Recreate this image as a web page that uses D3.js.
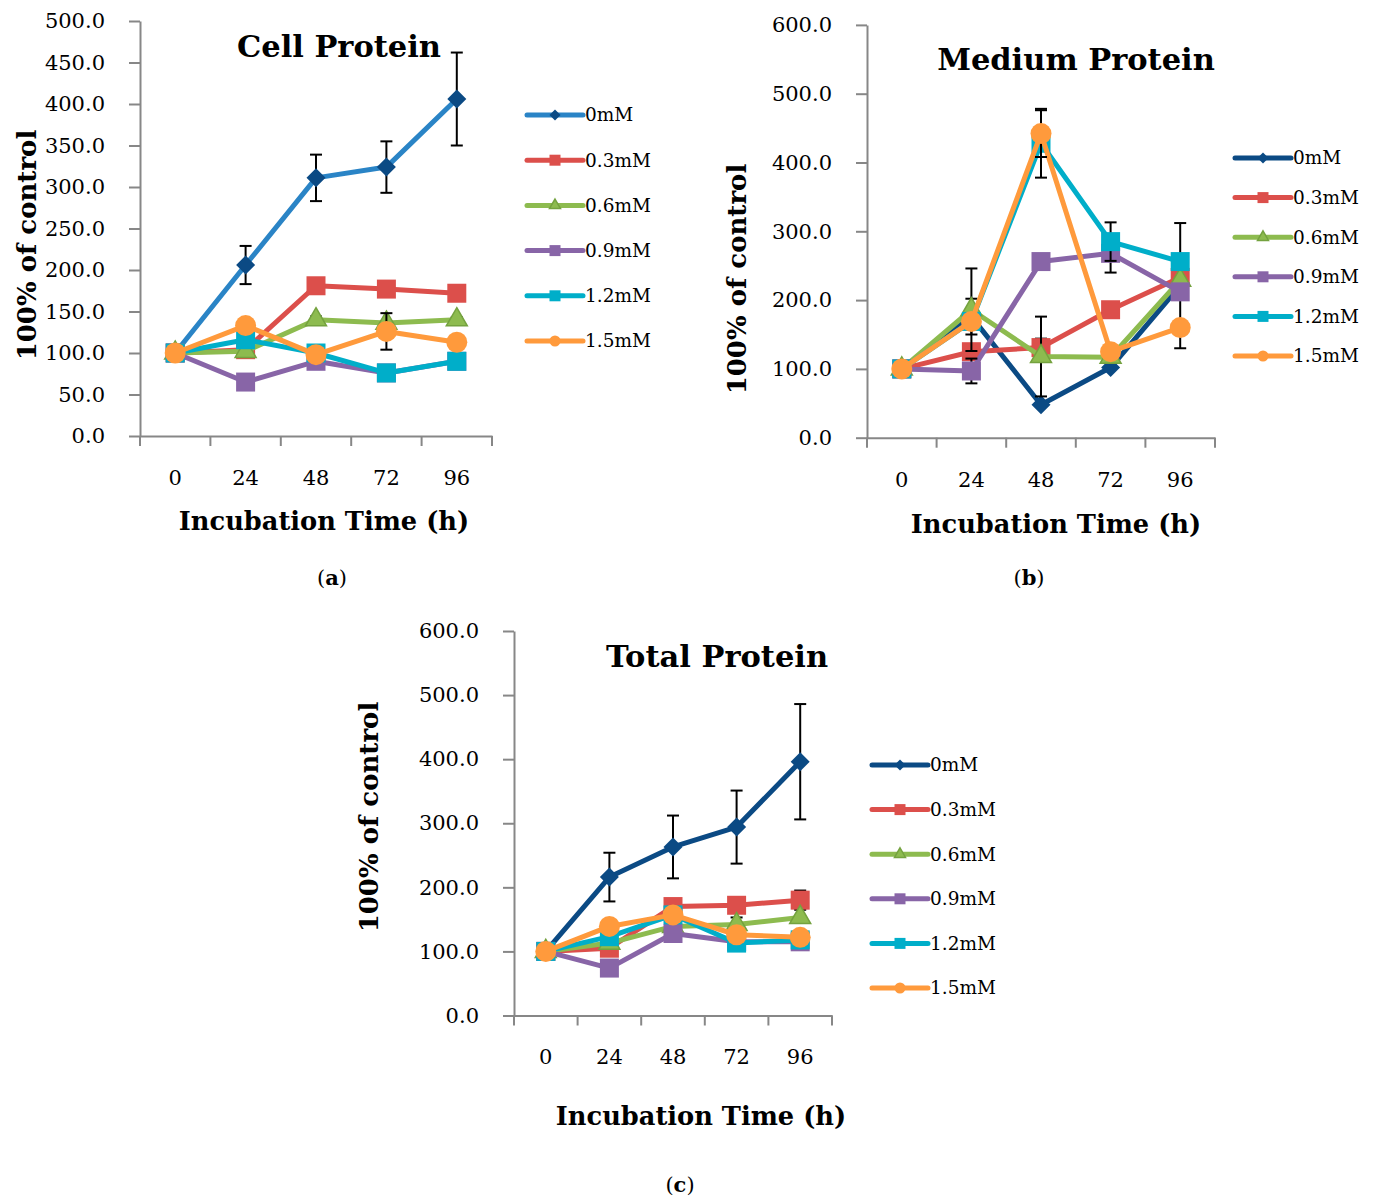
<!DOCTYPE html>
<html>
<head>
<meta charset="utf-8">
<script src="https://cdn.jsdelivr.net/npm/d3@7"></script>
<style>
body { margin: 0; background: #fff; }
text { font-family: "DejaVu Serif", serif; fill: #000; }
</style>
</head>
<body>
<script>
var g_width = 1376
var g_height = 1199

var hours = ["0", "24", "48", "72", "96"]
var doses = ["0mM", "0.3mM", "0.6mM", "0.9mM", "1.2mM", "1.5mM"]

// one row per dose, one value per hour (% of control)
var cellMean = [
    [100, 206, 311, 324, 406],
    [100, 104, 181, 177, 172],
    [100, 102, 140, 136, 140],
    [100, 65, 90, 76, 90],
    [100, 116, 100, 76, 90],
    [100, 133, 98, 126, 113]
]
var cellErr = [
    [0, 23, 28, 31, 56],
    [0, 0, 0, 0, 0],
    [0, 0, 4, 0, 3],
    [0, 0, 0, 0, 0],
    [0, 0, 0, 0, 0],
    [0, 0, 0, 22, 0]
]

var mediumMean = [
    [100, 176, 48, 102, 221],
    [100, 125, 131, 186, 233],
    [100, 186, 118, 117, 229],
    [100, 97, 256, 268, 212],
    [100, 169, 428, 285, 256],
    [100, 169, 442, 125, 160]
]
var mediumErr = [
    [0, 26, 0, 0, 91],
    [0, 0, 13, 0, 0],
    [0, 60, 58, 0, 0],
    [0, 18, 0, 28, 0],
    [0, 0, 50, 28, 0],
    [0, 0, 34, 0, 0]
]

var totalMean = [
    [100, 216, 263, 294, 396],
    [100, 105, 170, 172, 180],
    [100, 113, 139, 142, 153],
    [100, 74, 128, 115, 115],
    [100, 123, 157, 113, 118],
    [100, 139, 157, 126, 122]
]
var totalErr = [
    [0, 38, 49, 57, 90],
    [0, 0, 0, 0, 15],
    [0, 0, 0, 11, 0],
    [0, 0, 0, 0, 0],
    [0, 0, 0, 0, 0],
    [0, 0, 0, 0, 0]
]

var shapes = ["diamond", "square", "triangle", "square", "square", "circle"]
var lineColors = ["#0b4a84", "#dc4f4b", "#8dbb4f", "#8865a7", "#00aec9", "#ff9a3c"]
var markColors = ["#0b4a84", "#dc4f4b", "#8dbb4f", "#8865a7", "#00aec9", "#ff9a3c"]
var axisColor = "#878787"

var svgContainer = d3.select("body")
    .append("svg")
    .attr("width", g_width)
    .attr("height", g_height)
    .style("background-color", "white")

function markerPath(shape, s) {
    if (shape == "diamond") return d3.symbol(d3.symbolSquare, s * s / 2)()
    if (shape == "square") return d3.symbol(d3.symbolSquare, s * s)()
    if (shape == "triangle") return d3.symbol(d3.symbolTriangle, s * s * 0.433)()
    return d3.symbol(d3.symbolCircle, Math.PI * s * s / 4)()
}

function drawMarker(g, shape, cx, cy, s, color) {
    g.append("path")
        .attr("d", markerPath(shape, s))
        .attr("transform", "translate(" + cx + "," + cy + ")" + (shape == "diamond" ? " rotate(45)" : ""))
        .attr("fill", color)
        .attr("stroke", shape == "triangle" ? "#74a23f" : "none")
        .attr("stroke-width", 1.5)
}

function drawPanel(p, means, errs) {
    var g = svgContainer.append("g")

    var xScale = d3.scaleBand().domain(hours).range([p.x0, p.x1])
    var yScale = d3.scaleLinear().domain([0, p.ymax]).range([p.y0, p.y1])

    // y axis
    var yAxis = d3.axisLeft(yScale)
        .tickValues(d3.range(0, p.ymax + 1, p.ystep))
        .tickFormat(d3.format(".1f"))
        .tickSize(11).tickSizeOuter(0).tickPadding(24)
    var yAxisPlot = g.append("g")
        .attr("transform", "translate(" + p.x0 + ",0)")
        .call(yAxis)

    // x axis, ticks between categories like excel
    var xAxis = d3.axisBottom(xScale).tickSize(0).tickSizeOuter(0).tickPadding(34)
    var xAxisPlot = g.append("g")
        .attr("transform", "translate(0," + p.y0 + ")")
        .call(xAxis)
    var edges = hours.map(function(h) { return xScale(h) }).concat([p.x1])
    xAxisPlot.selectAll(".edge").data(edges).enter().append("line")
        .attr("x1", function(d) { return d }).attr("x2", function(d) { return d })
        .attr("y1", 0).attr("y2", 10)
        .attr("stroke", axisColor).attr("stroke-width", 2)

    g.selectAll(".domain, .tick line").attr("stroke", axisColor).attr("stroke-width", 2)
    g.selectAll(".tick text").attr("font-size", 21).attr("font-family", "DejaVu Serif").attr("fill", "#000")

    var cx = function(i) { return xScale(hours[i]) + xScale.bandwidth() / 2 }
    var line = d3.line()
        .x(function(d, i) { return cx(i) })
        .y(function(d) { return yScale(d) })

    for (var s = 0; s < doses.length; s++) {
        var lc = (s == 0 && p.firstLine) ? p.firstLine : lineColors[s]
        g.append("path")
            .attr("d", line(means[s]))
            .attr("fill", "none")
            .attr("stroke", lc)
            .attr("stroke-width", 5)
            .attr("stroke-linejoin", "round")
        for (var i = 0; i < hours.length; i++) {
            var e = errs[s][i]
            if (e > 0) {
                var top = yScale(means[s][i] + e), bot = yScale(means[s][i] - e)
                g.append("line").attr("x1", cx(i)).attr("x2", cx(i)).attr("y1", top).attr("y2", bot)
                    .attr("stroke", "#000").attr("stroke-width", 2)
                ;[top, bot].forEach(function(yy) {
                    g.append("line").attr("x1", cx(i) - 6).attr("x2", cx(i) + 6).attr("y1", yy).attr("y2", yy)
                        .attr("stroke", "#000").attr("stroke-width", 2)
                })
            }
        }
        for (var i = 0; i < hours.length; i++) {
            drawMarker(g, shapes[s], cx(i), yScale(means[s][i]), shapes[s] == "triangle" ? 21 : (shapes[s] == "circle" ? 21 : 19), markColors[s])
        }
    }

    // titles
    g.append("text").attr("x", p.titleX).attr("y", p.titleY)
        .attr("text-anchor", "middle").attr("font-size", 30.5).attr("font-weight", "bold")
        .text(p.title)
    g.append("text")
        .attr("transform", "translate(" + p.ytX + "," + p.ytY + ") rotate(-90)")
        .attr("text-anchor", "middle").attr("dy", "0.35em")
        .attr("font-size", 26).attr("font-weight", "bold")
        .text("100% of control")
    g.append("text").attr("x", p.xtX).attr("y", p.xtY)
        .attr("text-anchor", "middle").attr("font-size", 25.7).attr("font-weight", "bold")
        .text("Incubation Time (h)")
    var cap = g.append("text").attr("x", p.capX).attr("y", p.capY)
        .attr("text-anchor", "middle").attr("font-size", 21)
    cap.append("tspan").text("(")
    cap.append("tspan").attr("font-weight", "bold").text(p.letter)
    cap.append("tspan").text(")")

    // legend
    for (var s = 0; s < doses.length; s++) {
        var ly = p.legY + s * p.legStep
        var lc = (s == 0 && p.firstLine) ? p.firstLine : lineColors[s]
        g.append("line").attr("x1", p.legX).attr("x2", p.legX + 56)
            .attr("y1", ly).attr("y2", ly)
            .attr("stroke", lc).attr("stroke-width", 5).attr("stroke-linecap", "round")
        drawMarker(g, shapes[s], p.legX + 28, ly, 11, markColors[s])
        g.append("text").attr("x", p.legX + 58).attr("y", ly).attr("dy", "0.35em")
            .attr("font-size", 18.5).text(doses[s])
    }
}

drawPanel({
    x0: 140, x1: 492, y0: 436, y1: 21, ymax: 500, ystep: 50,
    title: "Cell Protein", titleX: 339, titleY: 57,
    ytX: 27, ytY: 245, xtX: 324, xtY: 530, capX: 332, capY: 585, letter: "a",
    legX: 527, legY: 115, legStep: 45.2, firstLine: "#2a84c6"
}, cellMean, cellErr)

drawPanel({
    x0: 867, x1: 1215, y0: 437.7, y1: 24.9, ymax: 600, ystep: 100,
    title: "Medium Protein", titleX: 1076, titleY: 70,
    ytX: 737, ytY: 279, xtX: 1056, xtY: 533, capX: 1029, capY: 585, letter: "b",
    legX: 1235, legY: 158, legStep: 39.6
}, mediumMean, mediumErr)

drawPanel({
    x0: 514, x1: 832, y0: 1015.5, y1: 631, ymax: 600, ystep: 100,
    title: "Total Protein", titleX: 717, titleY: 667,
    ytX: 369, ytY: 817, xtX: 701, xtY: 1125, capX: 680, capY: 1192, letter: "c",
    legX: 872, legY: 765, legStep: 44.6
}, totalMean, totalErr)
</script>
</body>
</html>
